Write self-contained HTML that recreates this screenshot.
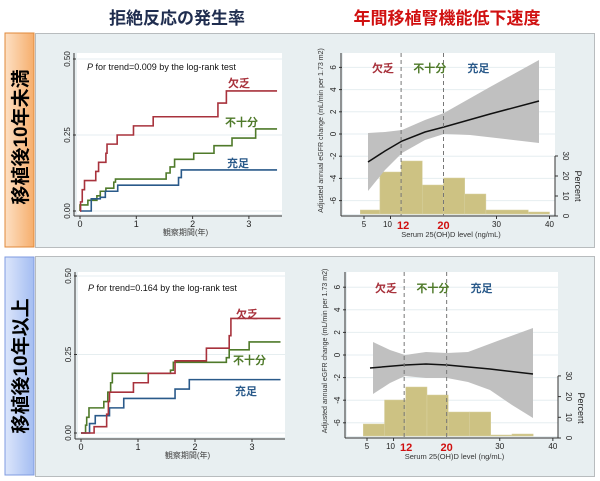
<!DOCTYPE html>
<html><head><meta charset="utf-8">
<style>
html,body{margin:0;padding:0;background:#fff;}
svg{display:block;font-family:"Liberation Sans","Noto Sans CJK JP",sans-serif;}
</style></head>
<body>
<svg id="s" width="600" height="481" viewBox="0 0 600 481" xmlns="http://www.w3.org/2000/svg">
<defs>
<linearGradient id="og" x1="0" x2="1" y1="0" y2="0"><stop offset="0" stop-color="#fde0c4"/><stop offset="1" stop-color="#f6ae6c"/></linearGradient>
<linearGradient id="bg" x1="0" x2="1" y1="0" y2="0"><stop offset="0" stop-color="#dce6fb"/><stop offset="1" stop-color="#a4bdf2"/></linearGradient>
</defs>
<text x="177" y="24" font-size="17" font-weight="bold" fill="#1f2d4f" text-anchor="middle">拒絶反応の発生率</text>
<text x="447" y="24" font-size="17" font-weight="bold" fill="#d01010" text-anchor="middle">年間移植腎機能低下速度</text>

<rect x="5" y="33" width="29" height="214" fill="url(#og)" stroke="#e0883a" stroke-width="1"/>
<rect x="5" y="257" width="29" height="218" fill="url(#bg)" stroke="#7f9be0" stroke-width="1"/>
<text transform="translate(27,137) rotate(-90)" font-size="19" font-weight="bold" fill="#000" text-anchor="middle">移植後10年未満</text>
<text transform="translate(27,366) rotate(-90)" font-size="19" font-weight="bold" fill="#000" text-anchor="middle">移植後10年以上</text>

<rect x="35.5" y="33.5" width="559" height="214" fill="#e8eff1" stroke="#b8bcbe"/>
<rect x="35.5" y="256.5" width="559" height="220" fill="#e8eff1" stroke="#b8bcbe"/>

<g id="g"></g>
</svg>
<script>
var g=document.getElementById('g');var h='';
function T(x,y,t,o){o=o||{};h+='<text x="'+x+'" y="'+y+'" font-size="'+(o.s||8)+'" fill="'+(o.c||'#222')+'"'+(o.a?' text-anchor="'+o.a+'"':'')+(o.w?' font-weight="bold"':'')+(o.r!==undefined?' transform="rotate('+o.r+' '+x+' '+y+')"':'')+'>'+t+'</text>';}
function L(x1,y1,x2,y2,c,w,d){h+='<line x1="'+x1+'" y1="'+y1+'" x2="'+x2+'" y2="'+y2+'" stroke="'+(c||'#333')+'" stroke-width="'+(w||1)+'"'+(d?' stroke-dasharray="'+d+'"':'')+'/>';}
var RED='#a8323c',GRN='#4f7a2a',BLU='#2a5a8a';
function km(X0,sx,Y0,sy,top,bot,right,series,labels,ptxt,py){
  h+='<rect x="'+X0+'" y="'+top+'" width="'+(right-X0)+'" height="'+(bot-top)+'" fill="#fff"/>';
  [0,0.25,0.5].forEach(function(v){var y=Y0-v*sy;L(X0,y,right,y,'#e6eef0',1);L(X0-4,y,X0-1,y,'#333');T(X0-7,y,v.toFixed(2),{s:8,a:'middle',r:-90});});
  L(X0-3,top,X0-3,bot+2,'#333');L(X0-3,bot+2,right,bot+2,'#333');
  [0,1,2,3].forEach(function(v){var x=X0+3+v*sx;L(x,bot+2,x,bot+5,'#333');T(x,bot+13,v,{s:9,a:'middle'});});
  T((X0+right)/2+6,bot+21,'観察期間(年)',{s:8,c:'#444',a:'middle'});
  T(X0+10,py,'<tspan font-style="italic">P</tspan> for trend='+ptxt+' by the log-rank  test',{s:9,c:'#111'});
  series.forEach(function(s){var d='M'+(X0+3)+' '+Y0;var prev=0;s.p.forEach(function(q){var x=X0+3+q[0]*sx;d+=' L'+x+' '+(Y0-prev*sy)+' L'+x+' '+(Y0-q[1]*sy);prev=q[1];});d+=' L'+(X0+3+3.5*sx)+' '+(Y0-prev*sy);h+='<path d="'+d+'" fill="none" stroke="'+s.c+'" stroke-width="1.6"/>';});
  labels.forEach(function(l){T(l[0],l[1],l[2],{s:11,c:l[3],w:1});});
}
km(77,56.3,211,304,53,214,282,[
 {c:GRN,p:[[0,0.02],[0.14,0.035],[0.3,0.05],[0.36,0.065],[0.46,0.075],[0.6,0.095],[0.63,0.105],[1.53,0.125],[1.6,0.145],[1.68,0.17],[2.02,0.19],[2.38,0.215],[2.7,0.24],[3.12,0.27]]},
 {c:BLU,p:[[0.2,0.04],[0.36,0.045],[0.45,0.065],[0.67,0.085],[1.75,0.11],[1.8,0.135]]},
 {c:RED,p:[[0.01,0.03],[0.04,0.07],[0.08,0.1],[0.28,0.13],[0.33,0.16],[0.46,0.19],[0.48,0.22],[0.66,0.25],[0.95,0.28],[1.3,0.31],[2.45,0.355],[2.6,0.395]]}
],[[228,87,'欠乏',RED],[225,126,'不十分',GRN],[227,167,'充足',BLU]],'0.009',70);
km(78,57,433,314,272,437,285,[
 {c:GRN,p:[[0.08,0.025],[0.1,0.05],[0.14,0.08],[0.4,0.1],[0.47,0.13],[0.52,0.16],[0.55,0.19],[1.57,0.2],[1.62,0.225],[2.55,0.24],[2.6,0.265],[2.95,0.29]]},
 {c:BLU,p:[[0.15,0.03],[0.25,0.055],[0.5,0.08],[0.75,0.11],[1.65,0.14],[1.9,0.17]]},
 {c:RED,p:[[0.23,0.02],[0.45,0.06],[0.48,0.1],[0.5,0.13],[0.92,0.16],[1.18,0.19],[1.65,0.23],[2.2,0.27],[2.6,0.31],[2.63,0.365]]}
],[[236,318,'欠乏',RED],[233,364,'不十分',GRN],[235,395,'充足',BLU]],'0.164',291);

function gam(xL,sx,x5,Y0,sy,top,bot,right,bars,hs,up,lo,ln,hy){
  var X=function(v){return x5+(v-5)*sx;};
  h+='<rect x="'+xL+'" y="'+top+'" width="'+(right-xL)+'" height="'+(bot-top)+'" fill="#fff"/>';
  [6,4,2,0,-2,-4,-6].forEach(function(v){var y=Y0-v*sy;L(xL,y,right,y,'#e6eef0',1);L(xL-4,y,xL-1,y,'#333');T(xL-7,y,v,{s:8,a:'middle',r:-90});});
  L(xL-2,top,xL-2,bot+2,'#333');L(xL-2,bot+2,right,bot+2,'#333');
  bars.forEach(function(b){h+='<rect x="'+X(b[0])+'" y="'+b[2]+'" width="'+(X(b[1])-X(b[0]))+'" height="'+(bot-b[2])+'" fill="#cdc283" stroke="#d8d0a0" stroke-width="0.5"/>';});
  var d='M'+up.map(function(p){return p.join(' ');}).join(' L')+' L'+lo.slice().reverse().map(function(p){return p.join(' ');}).join(' L')+'Z';
  h+='<path d="'+d+'" fill="#c0c0c0"/>';
  h+='<polyline points="'+ln.map(function(p){return p.join(',');}).join(' ')+'" fill="none" stroke="#111" stroke-width="1.5"/>';
  L(X(12),top,X(12),bot+2,'#777',1,'4,3');L(X(20),top,X(20),bot+2,'#777',1,'4,3');
  L(right,bot+2,right,bot+2-30*hs,'#333');
  [0,10,20,30].forEach(function(v){var y=bot+2-v*hs;L(right,y,right+3,y,'#333');T(right+8,y,v,{s:8,a:'middle',r:90});});
  T(right+20,bot-28,'Percent',{s:9,a:'middle',r:90});
  [[5,'5'],[10,'10'],[30,'30'],[40,'40']].forEach(function(t){L(X(t[0]),bot+2,X(t[0]),bot+5,'#333');T(X(t[0])-(t[0]==10?3:0),bot+13,t[1],{s:8,a:'middle'});});
  T(X(12)+2,bot+15,'12',{s:11,c:'#d01010',w:1,a:'middle'});T(X(20),bot+15,'20',{s:11,c:'#d01010',w:1,a:'middle'});
  T((xL+right)/2+2,bot+23,'Serum 25(OH)D level (ng/mL)',{s:7.5,c:'#333',a:'middle'});
  T(xL-20,(top+bot)/2-3,'Adjusted annual eGFR change (mL/min per 1.73 m2)',{s:7,c:'#333',a:'middle',r:-90});
  T(X(6.5),hy,'欠乏',{s:11,c:RED,w:1});T(X(14.3),hy,'不十分',{s:11,c:GRN,w:1});T(X(24.5),hy,'充足',{s:11,c:BLU,w:1});
}
gam(343,5.3,364,134,11.1,53,214,555,
 [[4.3,8,210],[8,12,172],[12,16,161],[16,20,185],[20,24,178],[24,28,194],[28,36,210],[36,40,212]],2.0,
 [[368,133],[385,132],[402,130],[425,120],[444,113],[490,87],[539,60]],
 [[368,191],[385,170],[402,153],[425,140],[444,134],[470,135],[505,139],[539,143]],
 [[368,162],[385,151],[402,141],[425,132],[444,127],[490,114],[539,101]],72);
gam(347,5.31,367,355,11.3,272,436,558,
 [[4.3,8.3,424],[8.3,12.3,400],[12.3,16.3,387],[16.3,20.3,395],[20.3,24.3,412],[24.3,28.3,412],[28.3,32.3,435],[32.3,36.3,434]],2.07,
 [[373,342],[390,350],[405,355],[426,352],[447,353],[468,352],[500,340],[533,328]],
 [[373,394],[390,383],[405,376],[426,378],[447,378],[468,382],[490,390],[512,405],[533,418]],
 [[370,368],[405,365],[426,364],[447,365],[490,369],[533,374]],292);
g.innerHTML=h;
</script>
</body></html>
